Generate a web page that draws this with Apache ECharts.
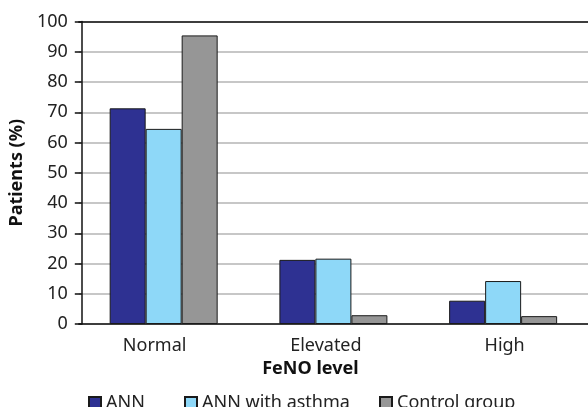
<!DOCTYPE html>
<html>
<head>
<meta charset="utf-8">
<script src="https://cdn.jsdelivr.net/npm/echarts@6/dist/echarts.min.js"></script>
<style>
  html, body { margin: 0; padding: 0; background: #fff; }
  #chart { width: 588px; height: 407px; }
</style>
</head>
<body>
<div id="chart"></div>
<script>
const categories = ["Normal", "Elevated", "High"];
const annValues = [71.3, 21.2, 7.7];
const asthmaValues = [64.5, 21.6, 14.2];
const controlValues = [95.4, 2.9, 2.6];
const seriesNames = ["ANN", "ANN with asthma", "Control group"];

const font = "Noto Sans";

const chart = echarts.init(document.getElementById("chart"));

const barBorder = { borderColor: "#1a1a1a", borderWidth: 1 };

function legendAt(name, left) {
    return {
        data: [{ name: name, icon: "rect" }],
        left: left,
        top: 389,
        itemWidth: 12,
        itemHeight: 12,
        selectedMode: false,
        textStyle: { fontSize: 18, color: "#222", fontFamily: font }
    };
}

// Excel didn't quite centre the category labels under the groups
const labelStyle = { fontSize: 18, color: "#222", fontFamily: font };
const catRich = {
    c0: Object.assign({ padding: [0, 18, 0, 0] }, labelStyle),
    c1: Object.assign({ padding: [0, 15, 0, 0] }, labelStyle),
    c2: Object.assign({ padding: [0, 0, 0, 3] }, labelStyle)
};

chart.setOption({
    backgroundColor: "#fff",
    animation: false,
    textStyle: { fontFamily: font },

    // grid starts a little left of the drawn axis so the groups sit where Excel put them
    grid: { left: 72, top: 21.5, width: 523.5, bottom: 83 },

    legend: [
        legendAt(seriesNames[0], 83),
        legendAt(seriesNames[1], 179),
        legendAt(seriesNames[2], 374)
    ],

    xAxis: [
        {
            type: "category",
            data: categories,
            name: "FeNO level",
            nameLocation: "middle",
            nameGap: 36,
            nameTextStyle: {
                fontSize: 18, fontWeight: "bold", color: "#111",
                fontFamily: font, padding: [0, 46, 0, 0]
            },
            axisLine: { lineStyle: { color: "#111", width: 1.5 } },
            axisTick: { show: false },
            axisLabel: {
                margin: 13,
                formatter: (v, i) => "{c" + i + "|" + v + "}",
                rich: catRich
            }
        },
        {
            type: "category",
            data: categories,
            position: "top",
            axisLine: { lineStyle: { color: "#111", width: 1.5 } },
            axisTick: { show: false },
            axisLabel: { show: false }
        }
    ],

    yAxis: {
        type: "value",
        min: 0,
        max: 100,
        interval: 10,
        offset: -3,
        name: "Patients (%)",
        nameLocation: "middle",
        nameGap: 50,
        nameTextStyle: { fontSize: 18, fontWeight: "bold", color: "#111", fontFamily: font },
        axisLine: { show: true, lineStyle: { color: "#111", width: 1.5 } },
        axisTick: { show: true, length: 7, lineStyle: { color: "#111", width: 1.5 } },
        axisLabel: { fontSize: 18, color: "#222", margin: 14, fontFamily: font },
        splitLine: { lineStyle: { color: "#b4b4b4", width: 1.5 } }
    },

    series: [
        {
            name: seriesNames[0],
            type: "bar",
            data: annValues,
            barWidth: 36,
            barGap: "0%",
            itemStyle: Object.assign({ color: "#2e3192" }, barBorder)
        },
        {
            name: seriesNames[1],
            type: "bar",
            data: asthmaValues,
            barWidth: 36,
            barGap: "0%",
            itemStyle: Object.assign({ color: "#8ed8f8" }, barBorder)
        },
        {
            name: seriesNames[2],
            type: "bar",
            data: controlValues,
            barWidth: 36,
            barGap: "0%",
            itemStyle: Object.assign({ color: "#969696" }, barBorder)
        }
    ]
});
</script>
</body>
</html>
